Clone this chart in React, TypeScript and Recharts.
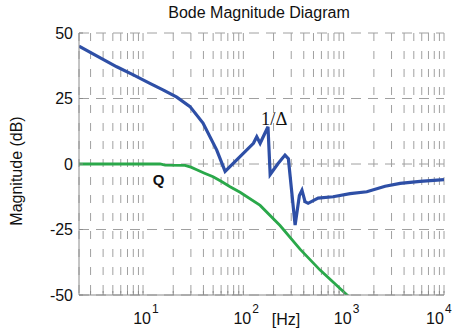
import { CartesianGrid, Line, LineChart, XAxis, YAxis } from "recharts";

// frequency axis (Hz), log scale
const FREQ_DOMAIN = [2.3, 10000];
const DECADES = [1, 10, 100, 1000];
const STEPS = [1, 2, 3, 4, 5, 6, 7, 8, 9];
const X_TICKS = [...DECADES.flatMap((d) => STEPS.map((s) => s * d)), 10000].filter(
  (v) => v >= FREQ_DOMAIN[0]
);
const Y_TICKS = [-50, -25, 0, 25, 50];

// 1/Delta curve (blue)
const deltaFreq = [
  2.3, 3.56, 5.47, 8, 11.7, 15.8, 21.7, 29.4, 39.6, 54.3, 65.8, 126, 136, 147, 176, 185, 220,
  260, 281, 328, 362, 384, 412, 442, 556, 784, 1159, 1700, 2590, 3655, 5780, 10000,
];
const deltaDb = [
  45, 41, 37.1, 34, 30.8, 28.3, 25.5, 21.9, 15.6, 5.3, -2.8, 7.9, 10.4, 7.9, 14.2, -4, 0,
  3.4, 2, -23.3, -12, -10, -14.4, -15, -13, -12.5, -11.3, -10.6, -8.5, -7.4, -6.6, -6,
];

// Q curve (green)
const qFreq = [
  2.3, 5, 10, 14.8, 16.6, 26.2, 30, 34.3, 41, 49.9, 60, 73.7, 92.7, 147, 232, 367, 582, 1081, 1300,
];
const qDb = [
  0, 0, 0, 0, -0.4, -0.5, -1.2, -2.2, -3.5, -4.9, -6.6, -8.7, -10.8, -15.8, -23.5, -32.5, -40.5,
  -50, -53,
];

const deltaData = deltaFreq.map((f, i) => ({ f, db: deltaDb[i] }));
const qData = qFreq.map((f, i) => ({ f, db: qDb[i] }));

const AXIS = "#8a8a8a";
const GRID = "#a0a0a0";
const FONT = "'Liberation Sans', Arial, sans-serif";
const WIDTH = 455;

function DecadeTick({ x, y, payload }: any) {
  const exp = Math.round(Math.log10(payload.value));
  if (Math.abs(Math.pow(10, exp) - payload.value) > 1e-6) return null;
  // keep the last label inside the picture
  const cx = Math.min(x - 1, WIDTH - 20);
  return (
    <g>
      <text x={cx} y={y + 33} textAnchor="middle" fontSize={16} fill="#111" fontFamily={FONT}>
        10
      </text>
      <text x={cx + 10} y={y + 22} fontSize={12} fill="#111" fontFamily={FONT}>
        {exp}
      </text>
    </g>
  );
}

export default function App() {
  return (
    <div style={{ position: "absolute", left: 0, top: 0, width: WIDTH, height: 332, background: "#fff", fontFamily: FONT }}>
      <LineChart width={WIDTH} height={332} margin={{ top: 33, right: 11, bottom: 0, left: 0 }}>
        <CartesianGrid horizontal={false} stroke={GRID} strokeDasharray="8 10" />
        <CartesianGrid vertical={false} stroke={GRID} strokeDasharray="10 7" />
        <XAxis
          dataKey="f"
          type="number"
          scale="log"
          domain={FREQ_DOMAIN}
          ticks={X_TICKS}
          allowDataOverflow
          height={37}
          stroke={AXIS}
          tickSize={-4}
          tickMargin={0}
          interval={0}
          tick={<DecadeTick />}
        />
        <XAxis
          xAxisId="top"
          orientation="top"
          type="number"
          scale="log"
          domain={FREQ_DOMAIN}
          ticks={X_TICKS}
          allowDataOverflow
          height={0}
          stroke={AXIS}
          tickSize={-4}
          interval={0}
          tick={false}
        />
        <YAxis
          type="number"
          domain={[-50, 50]}
          ticks={Y_TICKS}
          allowDataOverflow
          width={79}
          stroke={AXIS}
          tickSize={-4}
          tickMargin={10}
          interval={0}
          tick={{ fill: "#111", fontSize: 16, fontFamily: FONT }}
        />
        <YAxis
          yAxisId="right"
          orientation="right"
          type="number"
          domain={[-50, 50]}
          ticks={Y_TICKS}
          allowDataOverflow
          width={0}
          stroke={AXIS}
          tickSize={-4}
          interval={0}
          tick={false}
        />
        <Line
          data={qData}
          dataKey="db"
          type="linear"
          stroke="#2aa84a"
          strokeWidth={2.8}
          dot={false}
          isAnimationActive={false}
        />
        <Line
          data={deltaData}
          dataKey="db"
          type="linear"
          stroke="#2e4fa6"
          strokeWidth={3.2}
          dot={false}
          isAnimationActive={false}
        />
      </LineChart>
      <svg
        width={WIDTH}
        height={332}
        style={{ position: "absolute", left: 0, top: 0, pointerEvents: "none" }}
        fontFamily={FONT}
      >
        <text x={259} y={18} textAnchor="middle" fontSize={16} fill="#111">
          Bode Magnitude Diagram
        </text>
        <text transform="translate(22,171) rotate(-90)" textAnchor="middle" fontSize={16} fill="#111">
          Magnitude (dB)
        </text>
        <text x={286} y={325} textAnchor="middle" fontSize={16} fill="#111">
          [Hz]
        </text>
        <text x={158.5} y={185} textAnchor="middle" fontSize={15} fontWeight="bold" fill="#111">
          Q
        </text>
        <text x={261} y={125} fontSize={18.5} fill="#111" fontFamily="'Liberation Serif', 'Times New Roman', serif">
          1/Δ
        </text>
      </svg>
    </div>
  );
}
